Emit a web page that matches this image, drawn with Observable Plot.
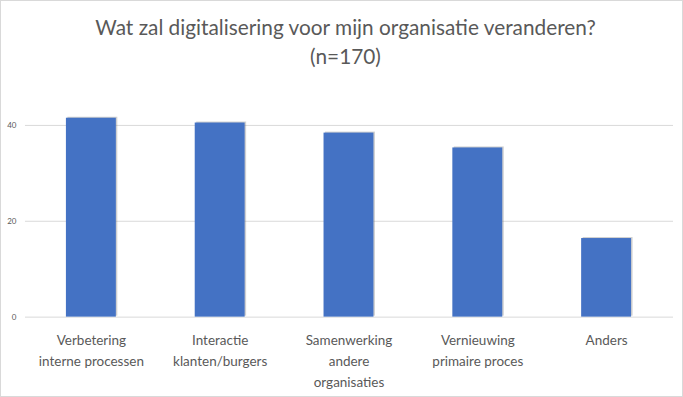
<!DOCTYPE html>
<html>
<head>
<meta charset="utf-8">
<script src="https://cdn.jsdelivr.net/npm/d3@7"></script>
<script src="https://cdn.jsdelivr.net/npm/@observablehq/plot@0.6"></script>
<style>
  html, body { margin: 0; padding: 0; background: #fff; }
  #wrap { position: relative; width: 683px; height: 397px; box-sizing: border-box; border: 1px solid #d9d9d9; overflow: hidden; font-family: Lato, "Open Sans", sans-serif; }
  #title { position: absolute; left: 3px; top: 11px; width: 683px; text-align: center; color: #595959; font-size: 20.8px; line-height: 29px; }
  #chart { position: absolute; left: -1px; top: 71px; }
</style>
</head>
<body>
<div id="wrap">
  <div id="title">Wat zal digitalisering voor mijn organisatie veranderen?<br>(n=170)</div>
  <div id="chart"></div>
</div>
<script>
const categories = [
  "Verbetering\ninterne processen",
  "Interactie\nklanten/burgers",
  "Samenwerking\nandere\norganisaties",
  "Vernieuwing\nprimaire proces",
  "Anders"
];
const values = [41.5, 40.5, 38.4, 35.3, 16.4];
const yTicks = [0, 20, 40];

const data = categories.map((c, i) => ({category: c, value: values[i]}));

const chart = Plot.plot({
  width: 683,
  height: 326,
  marginLeft: 25,
  marginRight: 9,
  marginTop: 5,
  marginBottom: 81,
  style: {fontFamily: "Lato, 'Open Sans', sans-serif", background: "transparent"},
  x: {domain: categories, paddingInner: 0.61, paddingOuter: 0.305, label: null, tickSize: 0},
  y: {domain: [0, 50], ticks: yTicks, label: null, tickSize: 0},
  marks: [
    Plot.gridY(yTicks, {stroke: "#d9d9d9", strokeOpacity: 1, strokeWidth: 1}),
    Plot.axisY({ticks: yTicks, tickSize: 0, tickPadding: 9, fontSize: 8, fill: "#595959", label: null}),
    Plot.axisX({tickSize: 0, tickPadding: 13, fontSize: 13.5, fill: "#595959", lineHeight: 1.55, label: null}),
    Plot.barY(data, {x: "category", y: "value", fill: "#777", fillOpacity: 0.35, dx: 1.5, dy: -1}),
    Plot.barY(data, {x: "category", y: "value", fill: "#4472C4"})
  ]
});
document.getElementById("chart").appendChild(chart);
</script>
</body>
</html>
